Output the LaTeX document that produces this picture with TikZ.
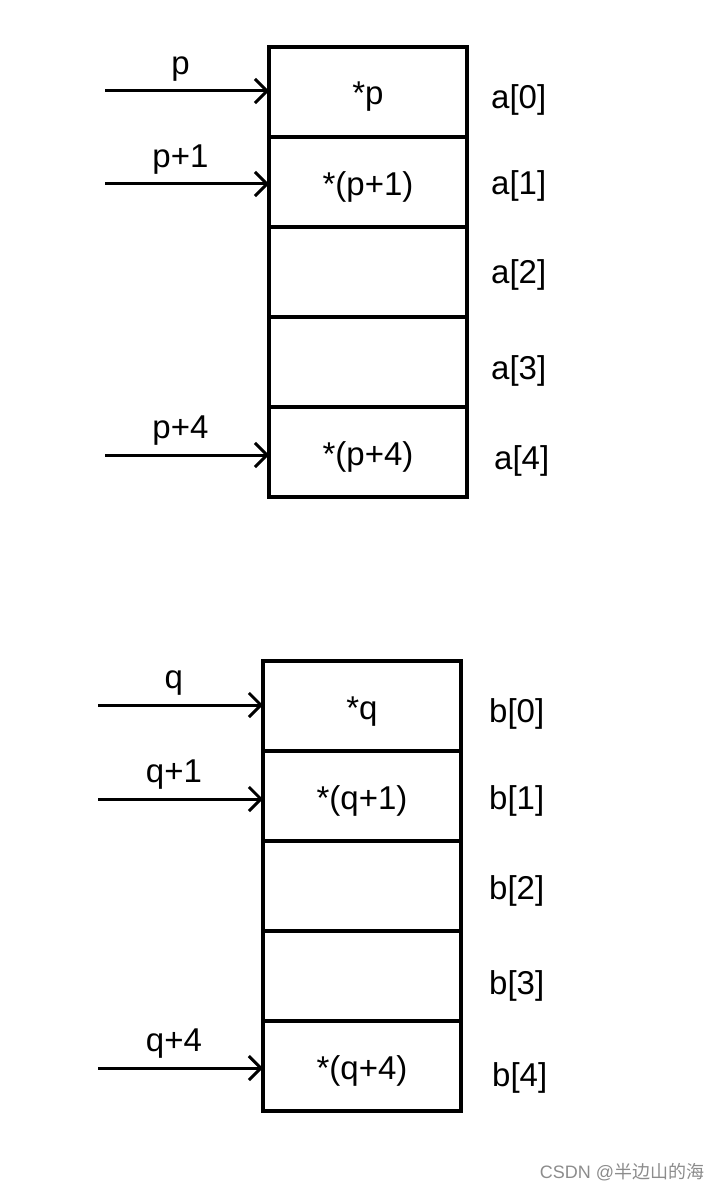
\documentclass[tikz,border=0pt]{standalone}
\usepackage{fontspec}
\setmainfont{Liberation Sans}
\newfontfamily\cjk{Noto Sans CJK SC}
\usepackage{tikz}
\usetikzlibrary{arrows.meta,positioning}

\begin{document}
\begin{tikzpicture}[
    x=1pt,y=-1pt,
    font=\fontsize{33}{39}\selectfont,
    cell/.style={rectangle,draw,line width=3.4pt,outer sep=0pt,minimum width=198pt,minimum height=90pt,inner sep=0pt,text height=26pt,text depth=0pt},
    idx/.style={inner sep=0pt,anchor=west},
    ptr/.style={-{Straight Barb[length=12pt,width=24pt,line width=3pt]},line width=3pt},
    lbl/.style={above,inner sep=8pt,pos=0.46}
]
\useasboundingbox (0,0) rectangle (723,1193);

% array a
\node[cell] (a0) at (368,92) {*p};
\node[cell,below=0pt of a0] (a1) {*(p+1)};
\node[cell,below=0pt of a1] (a2) {};
\node[cell,below=0pt of a2] (a3) {};
\node[cell,below=0pt of a3] (a4) {*(p+4)};
\node[idx,right=24pt of a0,yshift=-8pt] (la0) {a[0]};
\node[idx,right=24pt of a1,yshift=-4pt] (la1) {a[1]};
\node[idx,right=24pt of a2,yshift=-3pt] (la2) {a[2]};
\node[idx,right=24pt of a3,yshift=-9pt] (la3) {a[3]};
\node[idx,right=27pt of a4,yshift=-9pt] (la4) {a[4]};
\coordinate (p0) at (105,91);
\coordinate (p1) at (105,184);
\coordinate (p4) at (105,455);
\draw[ptr] (p0) -- node[lbl] {p} (p0 -| a0.west);
\draw[ptr] (p1) -- node[lbl] {p+1} (p1 -| a1.west);
\draw[ptr] (p4) -- node[lbl] {p+4} (p4 -| a4.west);

% array b
\node[cell] (b0) at (362,706) {*q};
\node[cell,below=0pt of b0] (b1) {*(q+1)};
\node[cell,below=0pt of b1] (b2) {};
\node[cell,below=0pt of b2] (b3) {};
\node[cell,below=0pt of b3] (b4) {*(q+4)};
\node[idx,right=28pt of b0,yshift=-8pt] (lb0) {b[0]};
\node[idx,right=28pt of b1,yshift=-5pt] (lb1) {b[1]};
\node[idx,right=28pt of b2,yshift=-5pt] (lb2) {b[2]};
\node[idx,right=28pt of b3,yshift=-10pt] (lb3) {b[3]};
\node[idx,right=31pt of b4,yshift=-12pt] (lb4) {b[4]};
\coordinate (q0) at (98,705);
\coordinate (q1) at (98,799);
\coordinate (q4) at (98,1068);
\draw[ptr] (q0) -- node[lbl] {q} (q0 -| b0.west);
\draw[ptr] (q1) -- node[lbl] {q+1} (q1 -| b1.west);
\draw[ptr] (q4) -- node[lbl] {q+4} (q4 -| b4.west);

\node[text=black!45,font=\fontsize{18}{21}\selectfont] (mark) at (622,1172) {CSDN @{\cjk 半边山的海}};
\end{tikzpicture}
\end{document}
